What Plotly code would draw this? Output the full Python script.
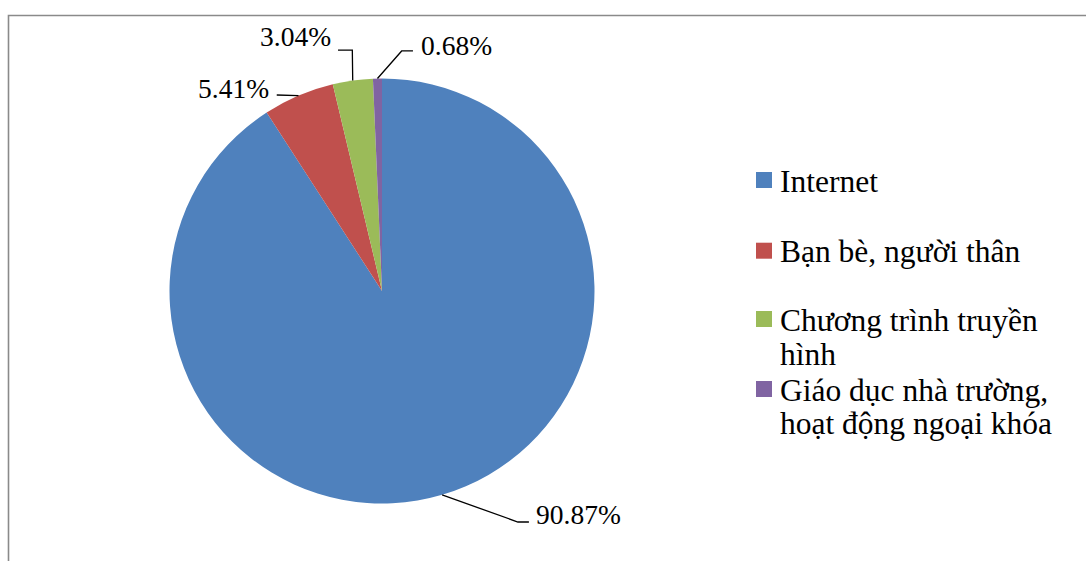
import math
import plotly.graph_objects as go

# ---- data ----
labels = ["Internet", "Bạn bè, người thân", "Chương trình truyền hình",
          "Giáo dục nhà trường, hoạt động ngoại khóa"]
values = [90.87, 5.41, 3.04, 0.68]
value_text = ["90.87%", "5.41%", "3.04%", "0.68%"]
colors = ["#4F81BD", "#C0504D", "#9BBB59", "#8064A2"]
legend_lines = [["Internet"], ["Bạn bè, người thân"],
                ["Chương trình truyền", "hình"],
                ["Giáo dục nhà trường,", "hoạt động ngoại khóa"]]

# ---- layout constants (pixels) ----
W, H = 1086, 561
cx, cy, r = 382, 291, 212.5
FONT = "Liberation Serif"

def px(x):
    return x / W

def py(y):
    return 1 - y / H

fig = go.Figure()
fig.add_trace(go.Pie(
    labels=labels, values=values, sort=False, direction="clockwise", rotation=0,
    marker=dict(colors=colors, line=dict(width=0)),
    textinfo="none", hoverinfo="label+percent", showlegend=False,
    domain=dict(x=[px(cx - r), px(cx + r)], y=[py(cy + r), py(cy - r)]),
))

# leader-line geometry relative to slice edge midpoint
leader = [
    dict(pts=[(75.8, 27.2), (86.8, 27.2)], side="left", dx=5, dy=-7.5),
    dict(pts=[(-21.8, -0.6)], side="right", dx=-5.5, dy=-6.7),
    dict(pts=[(-0.4, -30.5), (-14.7, -30.5)], side="right", dx=-5.3, dy=-13.5),
    dict(pts=[(24.2, -27.6), (35.5, -27.6)], side="left", dx=6, dy=-5.5),
]

shapes = []
annotations = []
total = sum(values)
cum = 0.0
for i, v in enumerate(values):
    mid = (cum + v / 2) / total * 2 * math.pi
    cum += v
    ex = cx + r * math.sin(mid)
    ey = cy - r * math.cos(mid)
    pts = [(ex, ey)] + [(ex + ox, ey + oy) for ox, oy in leader[i]["pts"]]
    path = "M " + " L ".join(f"{px(x)},{py(y)}" for x, y in pts)
    shapes.append(dict(type="path", path=path, xref="paper", yref="paper",
                       line=dict(color="black", width=1.3)))
    lx, ly = pts[-1]
    annotations.append(dict(
        x=px(lx + leader[i]["dx"]), y=py(ly + leader[i]["dy"]),
        xref="paper", yref="paper", text=value_text[i], showarrow=False,
        xanchor=leader[i]["side"], yanchor="middle",
        font=dict(family=FONT, size=27.5, color="black")))

# legend (manual, to match original spacing)
leg_sq_x = 756
leg_sq = 16
leg_centers = [180, 250.7, 319, 389]
for i, lines in enumerate(legend_lines):
    yc = leg_centers[i]
    shapes.append(dict(type="rect", xref="paper", yref="paper",
                       x0=px(leg_sq_x), x1=px(leg_sq_x + leg_sq),
                       y0=py(yc - leg_sq / 2), y1=py(yc + leg_sq / 2),
                       fillcolor=colors[i], line=dict(width=0)))
    for j, t in enumerate(lines):
        annotations.append(dict(
            x=px(777.5), y=py(yc + 34 * j + 1), xref="paper", yref="paper",
            text=t, showarrow=False, xanchor="left", yanchor="middle",
            font=dict(family=FONT, size=31.5, color="black")))

# chart area border
shapes.append(dict(type="rect", xref="paper", yref="paper",
                   x0=px(8.5), x1=px(W + 10), y0=py(H + 10), y1=py(15.5),
                   line=dict(color="#8a8a8a", width=1.6), fillcolor="rgba(0,0,0,0)",
                   layer="below"))

fig.update_layout(
    width=W, height=H, margin=dict(l=0, r=0, t=0, b=0),
    paper_bgcolor="white", plot_bgcolor="white",
    shapes=shapes, annotations=annotations, showlegend=False,
)

fig.write_html("out.html")
